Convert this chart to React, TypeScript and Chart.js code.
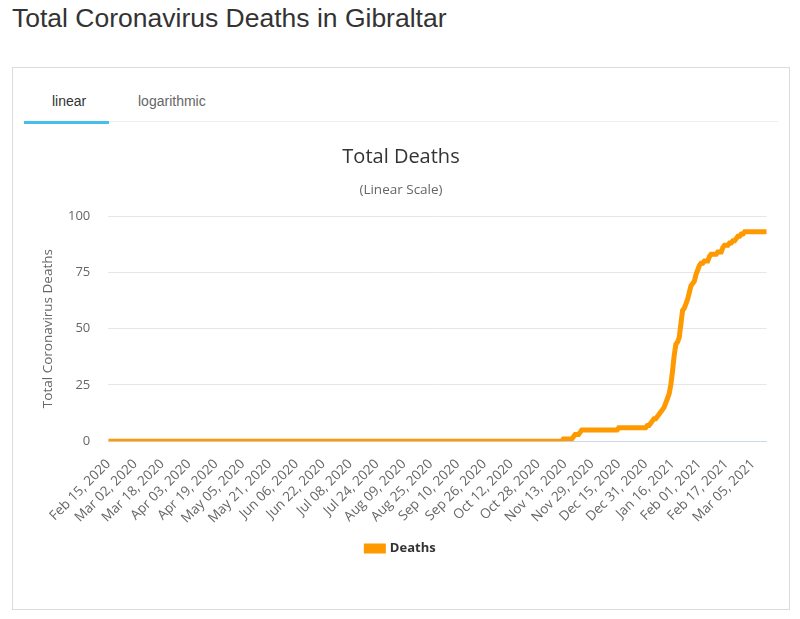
import React, { useEffect, useRef } from 'react';
import { Chart, registerables } from 'chart.js';

Chart.register(...registerables);

// daily cumulative deaths, Feb 15 2020 -> Mar 13 2021 (one line per month)
const deaths: number[] = [
  0, 0, 0, 0, 0, 0, 0, 0, 0, 0, 0, 0, 0, 0, 0, // Feb 2020 (from 15th)
  0, 0, 0, 0, 0, 0, 0, 0, 0, 0, 0, 0, 0, 0, 0, 0, 0, 0, 0, 0, 0, 0, 0, 0, 0, 0, 0, 0, 0, 0, 0, // Mar
  0, 0, 0, 0, 0, 0, 0, 0, 0, 0, 0, 0, 0, 0, 0, 0, 0, 0, 0, 0, 0, 0, 0, 0, 0, 0, 0, 0, 0, 0, // Apr
  0, 0, 0, 0, 0, 0, 0, 0, 0, 0, 0, 0, 0, 0, 0, 0, 0, 0, 0, 0, 0, 0, 0, 0, 0, 0, 0, 0, 0, 0, 0, // May
  0, 0, 0, 0, 0, 0, 0, 0, 0, 0, 0, 0, 0, 0, 0, 0, 0, 0, 0, 0, 0, 0, 0, 0, 0, 0, 0, 0, 0, 0, // Jun
  0, 0, 0, 0, 0, 0, 0, 0, 0, 0, 0, 0, 0, 0, 0, 0, 0, 0, 0, 0, 0, 0, 0, 0, 0, 0, 0, 0, 0, 0, 0, // Jul
  0, 0, 0, 0, 0, 0, 0, 0, 0, 0, 0, 0, 0, 0, 0, 0, 0, 0, 0, 0, 0, 0, 0, 0, 0, 0, 0, 0, 0, 0, 0, // Aug
  0, 0, 0, 0, 0, 0, 0, 0, 0, 0, 0, 0, 0, 0, 0, 0, 0, 0, 0, 0, 0, 0, 0, 0, 0, 0, 0, 0, 0, 0, // Sep
  0, 0, 0, 0, 0, 0, 0, 0, 0, 0, 0, 0, 0, 0, 0, 0, 0, 0, 0, 0, 0, 0, 0, 0, 0, 0, 0, 0, 0, 0, 0, // Oct
  0, 0, 0, 0, 0, 0, 0, 0, 0, 0, 0, 1, 1, 1, 1, 1, 1, 2, 3, 3, 3, 4, 5, 5, 5, 5, 5, 5, 5, 5, // Nov
  5, 5, 5, 5, 5, 5, 5, 5, 5, 5, 5, 5, 5, 5, 6, 6, 6, 6, 6, 6, 6, 6, 6, 6, 6, 6, 6, 6, 6, 6, 6, // Dec
  7, 7, 8, 9, 10, 10, 11, 12, 13, 14, 15, 17, 19, 21, 25, 31, 38, 43, 44, 46, 52, 58, 59, 61, 63, 66, 69, 70, 71, 74, 76, // Jan 2021
  78, 79, 79, 80, 80, 80, 82, 83, 83, 83, 83, 84, 84, 84, 86, 87, 87, 87, 88, 88, 89, 89, 90, 91, 91, 92, 92, 93, // Feb
  93, 93, 93, 93, 93, 93, 93, 93, 93, 93, 93, 93, 93, // Mar (to 13th)
];

const xTickLabels = [
  'Feb 15, 2020', 'Mar 02, 2020', 'Mar 18, 2020', 'Apr 03, 2020', 'Apr 19, 2020',
  'May 05, 2020', 'May 21, 2020', 'Jun 06, 2020', 'Jun 22, 2020', 'Jul 08, 2020',
  'Jul 24, 2020', 'Aug 09, 2020', 'Aug 25, 2020', 'Sep 10, 2020', 'Sep 26, 2020',
  'Oct 12, 2020', 'Oct 28, 2020', 'Nov 13, 2020', 'Nov 29, 2020', 'Dec 15, 2020',
  'Dec 31, 2020', 'Jan 16, 2021', 'Feb 01, 2021', 'Feb 17, 2021', 'Mar 05, 2021',
];

const yTicks = [0, 25, 50, 75, 100];

const MONTHS = ['Jan', 'Feb', 'Mar', 'Apr', 'May', 'Jun', 'Jul', 'Aug', 'Sep', 'Oct', 'Nov', 'Dec'];

// one category per day
const dates: string[] = deaths.map((_, i) => {
  const d = new Date(Date.UTC(2020, 1, 15 + i));
  return `${MONTHS[d.getUTCMonth()]} ${String(d.getUTCDate()).padStart(2, '0')}, ${d.getUTCFullYear()}`;
});

const ORANGE = '#FF9900';
const FONT = '"Open Sans", sans-serif';

const DeathsChart: React.FC = () => {
  const chartRef = useRef<HTMLCanvasElement>(null);
  const chartInstance = useRef<Chart | null>(null);

  useEffect(() => {
    if (!chartRef.current) return;
    if (chartInstance.current) chartInstance.current.destroy();
    const ctx = chartRef.current.getContext('2d');
    if (!ctx) return;

    Chart.defaults.font.family = FONT;

    chartInstance.current = new Chart(ctx, {
      type: 'line',
      data: {
        labels: dates,
        datasets: [
          {
            label: 'Deaths',
            data: deaths,
            borderColor: ORANGE,
            backgroundColor: ORANGE,
            borderWidth: 5,
            pointRadius: 0,
            tension: 0,
            fill: false,
          },
        ],
      },
      options: {
        animation: false,
        responsive: true,
        maintainAspectRatio: false,
        // left/right kept so the title centres on the card
        layout: { padding: { left: 23.5, right: 26.5, bottom: 35 } },
        plugins: {
          title: {
            display: true,
            text: 'Total Deaths',
            color: '#333333',
            font: { size: 20, weight: 'normal' },
            padding: { top: 15, bottom: 0 },
          },
          subtitle: {
            display: true,
            text: '(Linear Scale)',
            color: '#666666',
            font: { size: 13.5 },
            padding: { top: 13.4, bottom: 17.4 },
          },
          legend: {
            position: 'bottom',
            labels: {
              boxWidth: 17,
              boxHeight: 5,
              padding: 0.5,
              color: '#333333',
              font: { size: 13, weight: 'bold' },
            },
          },
          tooltip: { enabled: false },
        },
        scales: {
          x: {
            grid: { display: false, drawTicks: false },
            border: { color: '#ccd6eb' },
            ticks: {
              autoSkip: false,
              minRotation: 45,
              maxRotation: 45,
              color: '#666666',
              font: { size: 13.5 },
              padding: 15,
              callback: (_v, i) => (xTickLabels.includes(dates[i]) ? dates[i] : ''),
            },
          },
          y: {
            min: 0,
            max: 100,
            afterBuildTicks: (axis) => {
              axis.ticks = yTicks.map((v) => ({ value: v }));
            },
            grid: { color: '#e6e6e6', drawTicks: false },
            border: { display: false },
            ticks: { color: '#666666', font: { size: 13 }, padding: 18.2 },
            title: {
              display: true,
              text: 'Total Coronavirus Deaths',
              color: '#666666',
              font: { size: 13.5, lineHeight: 1 },
              padding: { top: 5.75, bottom: -5 },
            },
          },
        },
      },
    });

    return () => {
      if (chartInstance.current) {
        chartInstance.current.destroy();
        chartInstance.current = null;
      }
    };
  }, []);

  return (
    <div style={{ position: 'absolute', left: 12, top: 130, width: 781, height: 470 }}>
      <canvas ref={chartRef}></canvas>
    </div>
  );
};

export default function App() {
  return (
    <div
      style={{
        position: 'absolute',
        left: 0,
        top: 0,
        width: 800,
        height: 619,
        background: '#fff',
        fontFamily: '"Liberation Sans", Arial, sans-serif',
        overflow: 'hidden',
      }}
    >
      <div style={{ position: 'absolute', left: 12, top: 5, fontSize: 26.5, lineHeight: '26.5px', color: '#333' }}>
        Total Coronavirus Deaths in Gibraltar
      </div>
      <div
        style={{
          position: 'absolute',
          left: 12,
          top: 67,
          width: 778,
          height: 543,
          boxSizing: 'border-box',
          border: '1px solid #dcdcdc',
        }}
      />
      <div style={{ position: 'absolute', left: 24, top: 121, width: 754, height: 1, background: '#eeeeee' }} />
      <div style={{ position: 'absolute', left: 24, top: 121, width: 85, height: 3, background: '#45c0ea' }} />
      <div style={{ position: 'absolute', left: 52, top: 94, fontSize: 14, lineHeight: '14px', color: '#333' }}>linear</div>
      <div style={{ position: 'absolute', left: 138, top: 94, fontSize: 14, lineHeight: '14px', color: '#666' }}>
        logarithmic
      </div>
      <DeathsChart />
    </div>
  );
}
